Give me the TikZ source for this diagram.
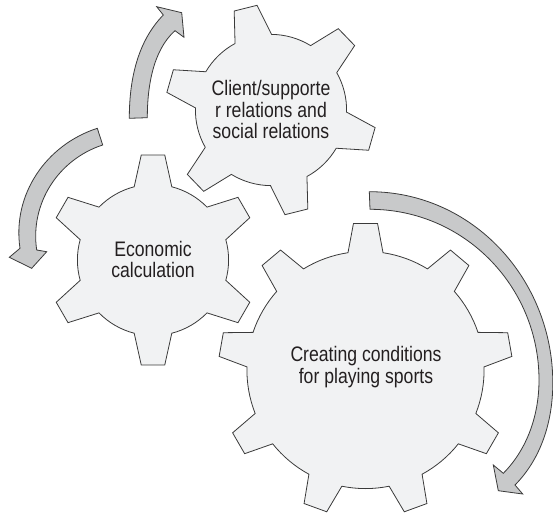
\documentclass[tikz,border=0pt]{standalone}
\usepackage{fontspec}
\setmainfont{Liberation Sans}[FakeStretch=0.84]
\definecolor{gearfill}{HTML}{F1F2F3}
\definecolor{arrowfill}{HTML}{C8C9CA}
\definecolor{gearline}{HTML}{3A3A3A}
\definecolor{labeltext}{HTML}{231F20}

% gear outline: centre x, centre y, teeth, angle of first tooth,
% tip radius, tip half-angle, root radius, root half-angle
\newcommand\mygear[8]{%
  \begin{scope}[shift={(#1,#2)}]
    \pgfmathsetmacro\gstep{360/#3}
    \pgfmathtruncatemacro\glast{#3-1}
    \draw[gearshape] ({#4-#8}:#7)
      \foreach \i in {0,...,\glast} {
        -- ({#4+\i*\gstep-#6}:#5) -- ({#4+\i*\gstep+#6}:#5)
        -- ({#4+\i*\gstep+#8}:#7)
        arc[start angle={#4+\i*\gstep+#8}, end angle={#4+(\i+1)*\gstep-#8}, radius=#7]
      } -- cycle;
  \end{scope}}

\begin{document}
\begin{tikzpicture}[x=1pt,y=1pt,
  gearshape/.style={draw=gearline, fill=gearfill, line width=0.8pt, line join=miter},
  turnarrow/.style={draw=gearline, fill=arrowfill, line width=0.8pt, line join=miter},
  geartext/.style={align=center, font=\fontsize{21}{21.7}\selectfont, text=labeltext, inner sep=0pt}]
\useasboundingbox (0,0) rectangle (553,512);

% curved arrows
\draw[turnarrow] (129.3,393.7) .. controls (129.3,433.7) and (138,471) .. (163.3,497)
  -- (156.7,505.3) -- (181.7,499.3) -- (184,474.7) -- (175,481.3)
  .. controls (152.6,461.4) and (147.3,424.3) .. (147.3,394.3) -- cycle;

\draw[turnarrow] (97.3,383.7) .. controls (45.9,367.1) and (12,317.1) .. (20,263.7)
  -- (9.3,254.7) -- (31.7,243.7) -- (46.7,260.3) -- (36.7,262)
  .. controls (29.8,308.3) and (58.2,352.6) .. (102.7,367) -- cycle;

\draw[turnarrow] (369.3,320.3) .. controls (472.8,320.3) and (552.8,232.5) .. (552.8,129)
  .. controls (552.8,91.3) and (541.5,53.8) .. (515,27)
  -- (522.7,18) -- (498.3,21.3) -- (493.3,47) -- (503.3,38.7)
  .. controls (527.6,63.3) and (539,97.4) .. (539,132)
  .. controls (539,225.8) and (463.8,302.7) .. (370,302.7) -- cycle;

% gears
\mygear{365.5}{142}{9}{90}{147}{4.7}{118.6}{8.5}
\mygear{153}{252}{6}{90}{105.6}{6.4}{75.6}{14.4}
\mygear{271}{402}{6}{104}{105.6}{6.4}{75.6}{14.4}

% labels
\node[geartext] (sports) at (366,145) {Creating conditions\\for playing sports};
\node[geartext] (economic) at (153,252.5) {Economic\\calculation};
\node[geartext] (client) at (271,402.5) {Client/supporte\\r relations and\\social relations};
\end{tikzpicture}
\end{document}
